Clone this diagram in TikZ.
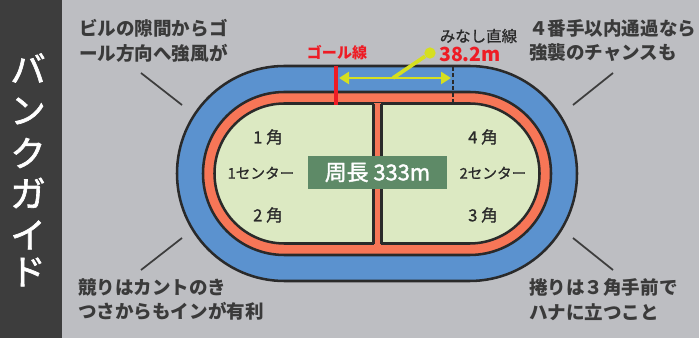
\documentclass[tikz,border=0pt]{standalone}
\usepackage{fontspec}
\usetikzlibrary{arrows.meta}
\setmainfont{Noto Sans CJK JP}
\newfontfamily\lightbold[FakeBold=0.8]{Noto Sans CJK JP}
\newfontfamily\medjp[FakeBold=1.8]{Noto Sans CJK JP}
\definecolor{bgc}{HTML}{BDBEC2}
\definecolor{panelc}{HTML}{3D3D3D}
\definecolor{bluec}{HTML}{5B92CF}
\definecolor{orangec}{HTML}{F77657}
\definecolor{greenc}{HTML}{DCE9C2}
\definecolor{bannerc}{HTML}{5E8A67}
\definecolor{inkc}{HTML}{3A3A3A}
\definecolor{linec}{HTML}{2A2A2A}
\definecolor{redc}{HTML}{EE1C25}
\definecolor{yelc}{HTML}{D6DF20}
\newcommand{\stadium}[3]{% left, right, half-height about centre y=173.5
  (#1+#3,173.5-#3) -- (#2-#3,173.5-#3)
  arc[start angle=-90,end angle=90,x radius=#3,y radius=#3]
  -- (#1+#3,173.5+#3)
  arc[start angle=90,end angle=270,x radius=#3,y radius=#3] -- cycle}
\tikzset{
  track/.style={draw=linec,line width=1.9pt},
  pointer/.style={draw=panelc,line width=1.3pt},
  note/.style={font=\bfseries\fontsize{13.9}{18.6}\selectfont,text=inkc,align=left,anchor=west,inner sep=0pt},
  corner/.style={font=\lightbold\fontsize{12.5}{14}\selectfont,text=linec,inner sep=0pt},
  sidechar/.style={font=\medjp\fontsize{26.5}{26}\selectfont,text=white,inner sep=0pt}
}
\begin{document}
\begin{tikzpicture}[x=0.75pt,y=-0.75pt]
\useasboundingbox (0,0) rectangle (699,338);
\fill[bgc] (0,0) rectangle (699,338);
\fill[panelc] (0,0) rectangle (62,338);
\node[sidechar] (s1) at (28,68) {バ};
\node[sidechar] (s2) at (28,111) {ン};
\node[sidechar] (s3) at (28,153) {ク};
\node[sidechar] (s4) at (28,193) {ガ};
\node[sidechar] (s5) at (28,235) {イ};
\node[sidechar] (s6) at (28,272) {ド};
% track
\path[track,fill=bluec] \stadium{177}{577}{107.5};
\path[track,fill=orangec] \stadium{203}{551}{81.5};
\path[track,fill=greenc] \stadium{214.5}{539.5}{70};
\fill[orangec] (374,103) rectangle (381,245);
\draw[linec,line width=1.7pt] (373.5,104) -- (373.5,244) (381.5,104) -- (381.5,244);
% goal line and straight
\draw[redc,line width=3.6pt] (336,66) -- (336,105);
\draw[linec,line width=1.6pt,dash pattern=on 3pt off 1.8pt] (453,67) -- (453,103);
\coordinate (la) at (339,78);
\coordinate (lb) at (451,78);
\coordinate (lm) at (393,78);
\node[circle,fill=yelc,minimum size=8.5pt,inner sep=0pt] (dot) at (430,53) {};
\draw[yelc,line width=2.8pt] (lm) -- (dot);
\draw[yelc,line width=2.2pt,{Triangle[length=7.5pt,width=9pt]}-{Triangle[length=7.5pt,width=9pt]}] (la) -- (lb);
% banner
\node[fill=bannerc,text=white,minimum width=104pt,minimum height=24.75pt,inner sep=0pt,font=\medjp\fontsize{16.4}{18}\selectfont] (ban) at (377.5,172.5) {周長 333m};
% corner labels
\node[corner] (c1) at (268,137) {1 角};
\node[corner] (c2) at (268,215) {2 角};
\node[corner] (c3) at (483,215) {3 角};
\node[corner] (c4) at (483,137) {4 角};
\node[corner,font=\lightbold\fontsize{11}{14}\selectfont] (cc1) at (261,173) {1センター};
\node[corner,font=\lightbold\fontsize{11}{14}\selectfont] (cc2) at (493,173) {2センター};
% top labels
\node[font=\bfseries\fontsize{11.3}{14}\selectfont,text=redc,inner sep=0pt] (goal) at (337,53) {ゴール線};
\node[font=\lightbold\fontsize{11.6}{14}\selectfont,text=linec,inner sep=0pt,anchor=west] (mina) at (439.5,36) {みなし直線};
\node[font=\bfseries\fontsize{14.6}{16}\selectfont,text=redc,inner sep=0pt,anchor=west] (len) at (439,54) {38.2m};
% notes
\node[note] (n1) at (79,40.5) {ビルの隙間からゴ\\ール方向へ強風が};
\node[note] (n2) at (529,40.5) {４番手以内通過なら\\強襲のチャンスも};
\node[note] (n3) at (78,299.5) {競りはカントのき\\つさからもインが有利};
\node[note] (n4) at (529,299.5) {捲りは３角手前で\\ハナに立つこと};
% pointers
\coordinate (p1a) at (141,73); \coordinate (p1b) at (182,105);
\coordinate (p2a) at (613,73); \coordinate (p2b) at (573,105);
\coordinate (p3a) at (141,270); \coordinate (p3b) at (182,238);
\coordinate (p4a) at (613,270); \coordinate (p4b) at (573,238);
\draw[pointer] (p1a) -- (p1b);
\draw[pointer] (p2a) -- (p2b);
\draw[pointer] (p3a) -- (p3b);
\draw[pointer] (p4a) -- (p4b);
\end{tikzpicture}
\end{document}
